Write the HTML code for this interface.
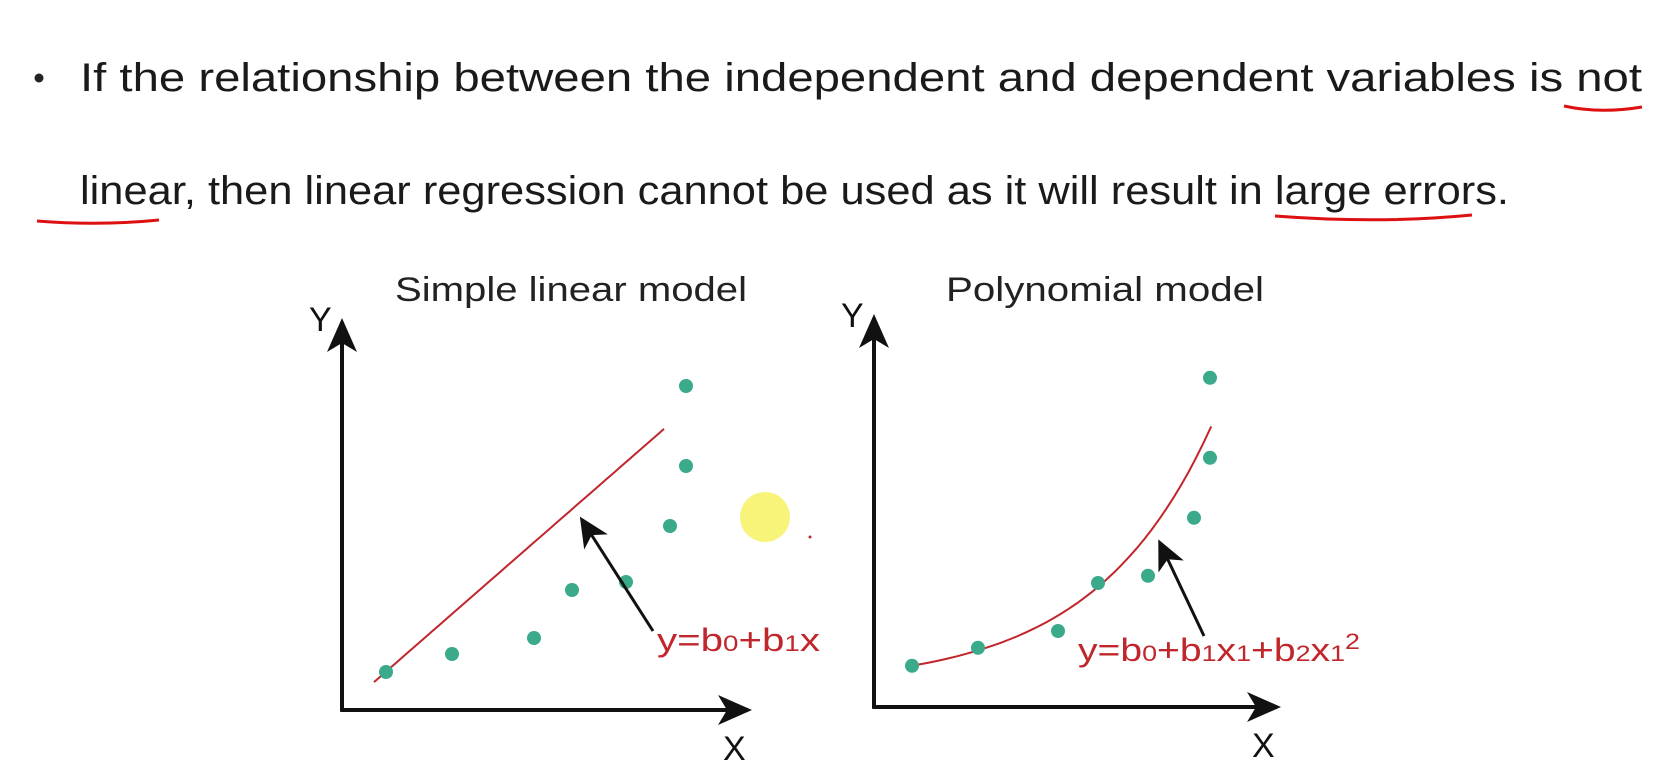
<!DOCTYPE html>
<html><head><meta charset="utf-8">
<style>
html,body{margin:0;padding:0;background:#fff;}
svg{display:block;font-family:"Liberation Sans",sans-serif;}
</style></head>
<body>
<svg id="s" width="1666" height="760" viewBox="0 0 1666 760">
  <defs>
    <marker id="ah" markerWidth="34" markerHeight="30" refX="30" refY="15" orient="auto" markerUnits="userSpaceOnUse" viewBox="0 0 34 30">
      <path d="M0,0 L34,15 L0,30 L9,15 Z" fill="#111"/>
    </marker>
    <marker id="ah2" markerWidth="30" markerHeight="28" refX="26" refY="14" orient="auto" markerUnits="userSpaceOnUse" viewBox="0 0 30 28">
      <path d="M0,0 L30,14 L0,28 L8,14 Z" fill="#111"/>
    </marker>
  </defs>
  <circle cx="39" cy="78" r="4.5" fill="#222"/>
  <text x="80" y="91" font-size="40" fill="#1a1a1a" textLength="1562" lengthAdjust="spacingAndGlyphs">If the relationship between the independent and dependent variables is not</text>
  <text x="80" y="204" font-size="40" fill="#1a1a1a" textLength="1429" lengthAdjust="spacingAndGlyphs">linear, then linear regression cannot be used as it will result in large errors.</text>
  <path d="M1564,106 Q1600,114 1642,107" stroke="#d11" stroke-width="3" fill="none"/>
  <path d="M37,221 Q100,226 159,220" stroke="#d11" stroke-width="3" fill="none"/>
  <path d="M1275,216 Q1380,224 1472,215" stroke="#d11" stroke-width="3" fill="none"/>
  <g id="left"></g>
  <g id="right"></g>
</svg>
<script>
// Left chart data (arbitrary units)
const linX = [1.1, 2.75, 4.8, 5.75, 7.1, 8.2, 8.6, 8.6];
const linY = [0.95, 1.4, 1.8, 3.0, 3.2, 4.6, 6.1, 8.1];
const linFit = [0.0, 0.873];          // b0, b1
const linRange = [0.8, 8.05];
// Right chart data
const polyX = [0.95, 2.6, 4.6, 5.6, 6.85, 8.0, 8.4, 8.4];
const polyY = [1.03, 1.48, 1.9, 3.1, 3.28, 4.73, 6.23, 8.23];
const curveFit = [0.52, 0.3696, 0.34]; // a, b, c  (a + b*e^(c x))
const polyRange = [0.95, 8.43];

const NS = "http://www.w3.org/2000/svg";
function mk(tag, attrs, parent){const e=document.createElementNS(NS,tag);for(const k in attrs)e.setAttribute(k,attrs[k]);parent.appendChild(e);return e;}

function chart(g, ox, oy, top, right, title, titleX, titleLen, xs, ys, fitFn, range, label, lblX, lblY, lblLen, arrFrom, arrTo, prefix){
  const sx = v => ox + v*40;
  const sy = v => oy - v*40;
  const t = mk('text',{x:titleX,y:301,'font-size':34,fill:'#222',textLength:titleLen,lengthAdjust:'spacingAndGlyphs'},g);
  t.textContent = title;
  
  
  const ya = mk('line',{x1:ox,y1:oy+1.5,x2:ox,y2:top,stroke:'#111','stroke-width':4,'marker-end':'url(#ah)'},g);
  
  
  const xa = mk('line',{x1:ox-1.5,y1:oy,x2:right,y2:oy,stroke:'#111','stroke-width':4,'marker-end':'url(#ah)'},g);
  
  
  const yl = mk('text',{x:ox-33,y:top+9,'font-size':34,fill:'#111'},g);
  yl.textContent='Y';
  
  
  const xl = mk('text',{x:right-25,y:oy+50,'font-size':34,fill:'#111'},g);
  xl.textContent='X';
  
  
  let d='';
  for(let i=0;i<=40;i++){const v=range[0]+(range[1]-range[0])*i/40;d+=(i?'L':'M')+sx(v).toFixed(1)+','+sy(fitFn(v)).toFixed(1);}
  const fl = mk('path',{d:d,stroke:'#c0262b','stroke-width':2,fill:'none'},g);
  
  
  xs.forEach((v,i)=>{
    const c = mk('circle',{cx:sx(v),cy:sy(ys[i]),r:7,fill:'#3aaa8a'},g);
    
    
  });
  const ar = mk('line',{x1:arrFrom[0],y1:arrFrom[1],x2:arrTo[0],y2:arrTo[1],stroke:'#111','stroke-width':3,'marker-end':'url(#ah2)'},g);
  
  
  const lt = mk('text',{x:lblX,y:lblY,'font-size':32,fill:'#c0262b',textLength:lblLen,lengthAdjust:'spacingAndGlyphs'},g);
  lt.innerHTML = label;
  
  
}

chart(document.getElementById('left'),342,710,322,748,'Simple linear model',395,352,linX,linY,
  v=>linFit[0]+linFit[1]*v, linRange,
  'y=b<tspan font-size="22">0</tspan>+b<tspan font-size="22">1</tspan>x',657,651,163,[653,631],[582,520],'linear');
chart(document.getElementById('right'),874,707,318,1277,'Polynomial model',946,318,polyX,polyY,
  v=>curveFit[0]+curveFit[1]*Math.exp(curveFit[2]*v), polyRange,
  'y=b<tspan font-size="22">0</tspan>+b<tspan font-size="22">1</tspan>x<tspan font-size="22">1</tspan>+b<tspan font-size="22">2</tspan>x<tspan font-size="22">1</tspan><tspan font-size="22" dy="-12">2</tspan>',1078,661,282,[1204,636],[1160,543],'poly');

const yc = mk('circle',{cx:765,cy:517,r:25,fill:'#f6f36a',opacity:0.9},document.getElementById('s'));


const rd = mk('circle',{cx:810,cy:537,r:1.5,fill:'#c0262b'},document.getElementById('s'));


</script>
</body></html>
